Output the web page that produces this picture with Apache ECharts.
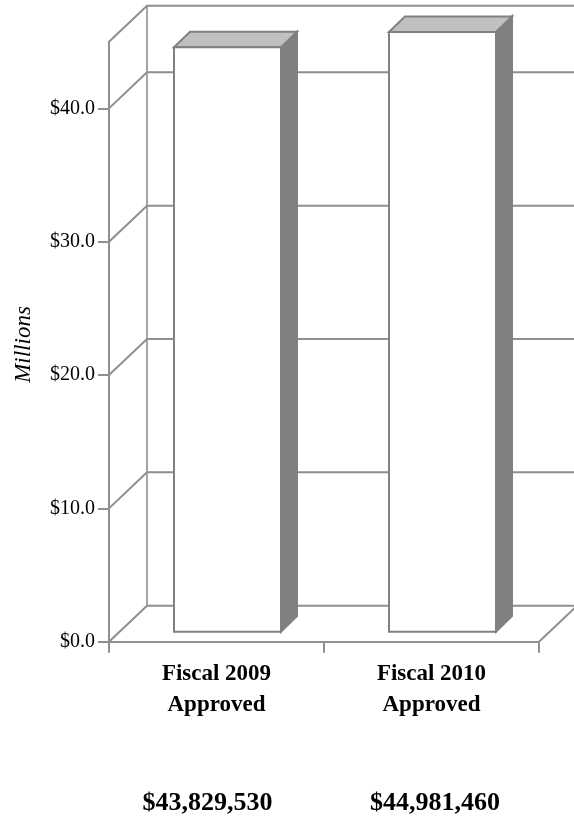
<!DOCTYPE html>
<html>
<head>
<meta charset="utf-8">
<style>html,body{margin:0;padding:0;background:#fff}#c{width:574px;height:816px}</style>
<script src="https://cdn.jsdelivr.net/npm/echarts@6/dist/echarts.min.js"></script>
</head>
<body>
<div id="c"></div>
<script>
// Budget figures, whole dollars
const categories = ['Fiscal 2009\nApproved', 'Fiscal 2010\nApproved'];
const approvedDollars = [43829530, 44981460];
const amountLabels = ['$43,829,530', '$44,981,460'];
const valueTicks = [0, 10, 20, 30, 40];
const axisMax = 45;
const axisTitle = 'Millions';

const millions = approvedDollars.map(v => v / 1e6);

// Oblique projection offsets for the box walls and the columns
const wallDepth = [38, -36];
const barInset = [11, -10];
const barDepth = [16, -15.5];
const barHalfWidth = 53.5;
const amountShift = [-9, 3.5];
const lineGray = '#8f8f8f';
const edgeGray = '#808080';
const serif = '"Liberation Serif", "Times New Roman", serif';

const chart = echarts.init(document.getElementById('c'), null, {renderer: 'canvas'});

const gridLine = (params, api) => {
  const left = api.coord([0, api.value(0)]);
  const cs = params.coordSys;
  left[0] = cs.x;
  const back = [left[0] + wallDepth[0], left[1] + wallDepth[1]];
  return {
    type: 'polyline',
    shape: {points: [left, back, [cs.x + cs.width + wallDepth[0], back[1]]]},
    style: {fill: null, stroke: lineGray, lineWidth: 2}
  };
};

const floorEdge = (params, api) => {
  const cs = params.coordSys;
  const y = api.coord([0, 0])[1];
  const right = cs.x + cs.width;
  return {
    type: 'polyline',
    shape: {points: [[right, y], [right + wallDepth[0], y + wallDepth[1]]]},
    style: {fill: null, stroke: lineGray, lineWidth: 2}
  };
};

const backPost = (params, api) => {
  const cs = params.coordSys;
  const x = cs.x + wallDepth[0];
  return {
    type: 'line',
    shape: {x1: x, y1: api.coord([0, 0])[1] + wallDepth[1], x2: x, y2: api.coord([0, axisMax])[1] + wallDepth[1]},
    style: {stroke: '#a6a6a6', lineWidth: 2}
  };
};

const column = (params, api) => {
  const base = api.coord([api.value(0), 0]);
  const top = api.coord([api.value(0), api.value(1)]);
  const xl = base[0] + barInset[0] - barHalfWidth;
  const xr = xl + barHalfWidth * 2;
  const yb = base[1] + barInset[1];
  const yt = top[1] + barInset[1];
  const [dx, dy] = barDepth;
  const edge = {stroke: edgeGray, lineWidth: 2, lineJoin: 'miter'};
  return {
    type: 'group',
    children: [
      {type: 'polygon', shape: {points: [[xr, yt], [xr + dx, yt + dy], [xr + dx, yb + dy], [xr, yb]]},
        style: Object.assign({fill: '#808080'}, edge)},
      {type: 'polygon', shape: {points: [[xl, yt], [xl + dx, yt + dy], [xr + dx, yt + dy], [xr, yt]]},
        style: Object.assign({fill: '#c0c0c0'}, edge)},
      {type: 'rect', shape: {x: xl, y: yt, width: xr - xl, height: yb - yt},
        style: Object.assign({fill: '#ffffff'}, edge)}
    ]
  };
};

const amountText = (params, api) => {
  const p = api.coord([api.value(0), 0]);
  return {
    type: 'text',
    style: {
      x: p[0] + amountShift[params.dataIndex],
      y: 803,
      text: amountLabels[params.dataIndex],
      fill: '#000',
      font: 'bold 26px ' + serif,
      align: 'center',
      verticalAlign: 'middle'
    }
  };
};

chart.setOption({
  animation: false,
  backgroundColor: '#fff',
  grid: {left: 109, width: 430, top: 41.7, height: 600},
  xAxis: {
    type: 'category',
    data: categories,
    axisLine: {lineStyle: {color: lineGray, width: 2}},
    axisTick: {show: true, interval: 0, length: 11, lineStyle: {color: lineGray, width: 2}},
    axisLabel: {
      color: '#000', fontFamily: serif, fontWeight: 'bold', fontSize: 23,
      lineHeight: 31, margin: 17, interval: 0
    },
    z: 5
  },
  yAxis: {
    type: 'value',
    min: 0,
    max: axisMax,
    interval: 10,
    splitLine: {show: false},
    axisLine: {show: true, lineStyle: {color: lineGray, width: 2}},
    axisTick: {show: true, length: 11, customValues: valueTicks, lineStyle: {color: lineGray, width: 2}},
    axisLabel: {
      color: '#000', fontFamily: serif, fontSize: 20, margin: 14,
      padding: [2, 0, 0, 0],
      customValues: valueTicks,
      formatter: v => '$' + Number(v).toFixed(1)
    },
    z: 5
  },
  graphic: [{
    type: 'text',
    x: 23.5, y: 344.5, rotation: Math.PI / 2, originX: 0, originY: 0,
    style: {text: axisTitle, font: 'italic 23px ' + serif, fill: '#000', align: 'center', verticalAlign: 'middle'}
  }],
  series: [
    {type: 'custom', coordinateSystem: 'cartesian2d', clip: false, silent: true, z: 1,
      renderItem: backPost, data: [[0]], encode: {x: 0}},
    {type: 'custom', coordinateSystem: 'cartesian2d', clip: false, silent: true, z: 2,
      renderItem: gridLine, data: valueTicks.concat(axisMax).map(v => [v]), encode: {y: 0}},
    {type: 'custom', coordinateSystem: 'cartesian2d', clip: false, silent: true, z: 2,
      renderItem: floorEdge, data: [[0]], encode: {y: 0}},
    {type: 'custom', coordinateSystem: 'cartesian2d', clip: false, silent: true, z: 10,
      renderItem: column, data: millions.map((v, i) => [i, v]), encode: {x: 0, y: 1}},
    {type: 'custom', coordinateSystem: 'cartesian2d', clip: false, silent: true, z: 10,
      renderItem: amountText, data: millions.map((v, i) => [i, v]), encode: {x: 0, y: 1}}
  ]
});
</script>
</body>
</html>
